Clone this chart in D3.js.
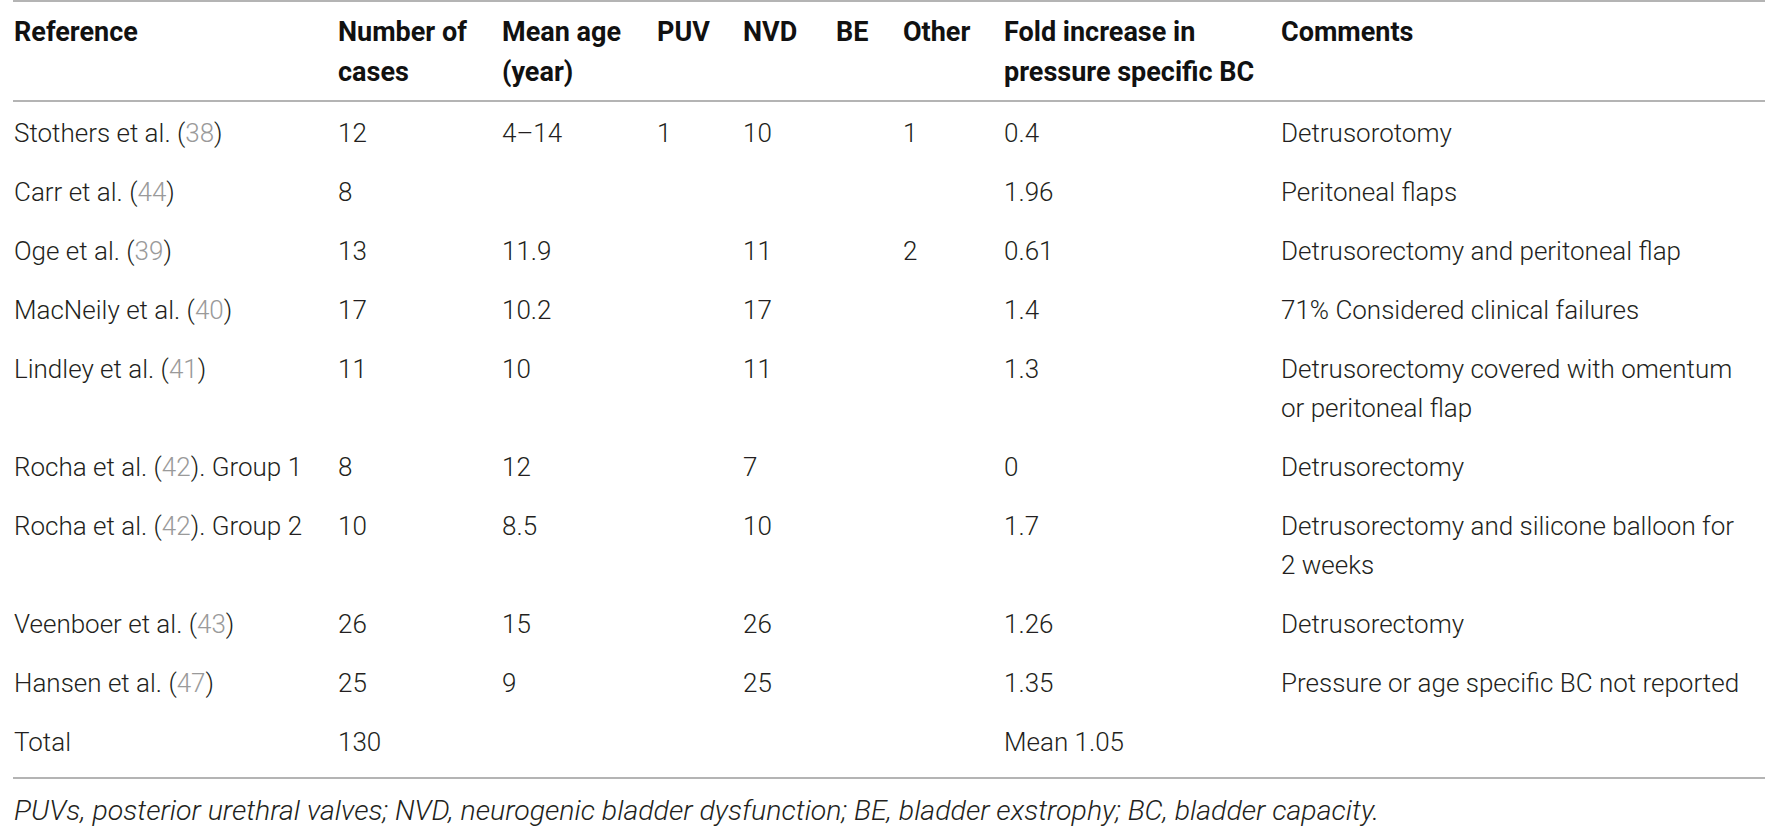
<!DOCTYPE html>
<html>
<head>
<meta charset="utf-8">
<script src="https://cdn.jsdelivr.net/npm/d3@7"></script>
<style>
  body { margin: 0; background: #fff; }
  svg { display: block; }
</style>
</head>
<body>
<svg id="vis-svg"></svg>
<script>
// Table data, one array per column
const headers = [
    ["Reference"],
    ["Number of", "cases"],
    ["Mean age", "(year)"],
    ["PUV"],
    ["NVD"],
    ["BE"],
    ["Other"],
    ["Fold increase in", "pressure specific BC"],
    ["Comments"]
];

const references = ["Stothers et al.", "Carr et al.", "Oge et al.", "MacNeily et al.", "Lindley et al.",
    "Rocha et al.", "Rocha et al.", "Veenboer et al.", "Hansen et al.", "Total"];
const refNumbers = ["38", "44", "39", "40", "41", "42", "42", "43", "47", ""];
const refSuffix = ["", "", "", "", "", ". Group 1", ". Group 2", "", "", ""];
const cases = ["12", "8", "13", "17", "11", "8", "10", "26", "25", "130"];
const meanAge = ["4–14", "", "11.9", "10.2", "10", "12", "8.5", "15", "9", ""];
const puv = ["1", "", "", "", "", "", "", "", "", ""];
const nvd = ["10", "", "11", "17", "11", "7", "10", "26", "25", ""];
const be = ["", "", "", "", "", "", "", "", "", ""];
const other = ["1", "", "2", "", "", "", "", "", "", ""];
const foldIncrease = ["0.4", "1.96", "0.61", "1.4", "1.3", "0", "1.7", "1.26", "1.35", "Mean 1.05"];
const comments = [
    ["Detrusorotomy"],
    ["Peritoneal flaps"],
    ["Detrusorectomy and peritoneal flap"],
    ["71% Considered clinical failures"],
    ["Detrusorectomy covered with omentum", "or peritoneal flap"],
    ["Detrusorectomy"],
    ["Detrusorectomy and silicone balloon for", "2 weeks"],
    ["Detrusorectomy"],
    ["Pressure or age specific BC not reported"],
    []
];
const footnote = "PUVs, posterior urethral valves; NVD, neurogenic bladder dysfunction; BE, bladder exstrophy; BC, bladder capacity.";

const width = 1778, height = 826;
const textColor = "#231f20", refColor = "#9a9a9a", ruleColor = "#b4b4b4";
const bodyFont = "Roboto, 'Liberation Sans', sans-serif";

// column left edges
const x = d3.scaleOrdinal()
    .domain(d3.range(headers.length))
    .range([14, 338, 502, 657, 743, 836, 903, 1004, 1281]);

const lineHeight = 39, rowGap = 59;

// row centers, taller rows push the next ones down
const rowLines = comments.map(c => Math.max(1, c.length));
const rowY = [];
rowLines.reduce((acc, n, i) => { rowY[i] = acc; return acc + rowGap + (n - 1) * lineHeight; }, 133);

const svg = d3.select("#vis-svg")
    .attr("width", width)
    .attr("height", height);

// rules
const rules = [1, 101, 778];
svg.selectAll(".rule")
    .data(rules)
  .enter().append("line")
    .attr("x1", 13)
    .attr("x2", 1765)
    .attr("y1", d => d)
    .attr("y2", d => d)
    .attr("stroke", ruleColor)
    .attr("stroke-width", 2);

// header
const head = svg.append("g")
    .attr("font-family", bodyFont)
    .attr("font-weight", 700)
    .attr("font-size", 27)
    .attr("fill", "#111");

headers.forEach((lines, c) => {
    lines.forEach((t, k) => {
        head.append("text")
            .attr("x", x(c))
            .attr("y", 32 + k * 40)
            .attr("dy", "0.35em")
            .text(t);
    });
});

// body
const body = svg.append("g")
    .attr("font-family", bodyFont)
    .attr("font-weight", 300)
    .attr("font-size", 26)
    .attr("fill", textColor);

references.forEach((r, i) => {
    const t = body.append("text")
        .attr("x", x(0))
        .attr("y", rowY[i])
        .attr("dy", "0.35em");
    if (refNumbers[i]) {
        t.append("tspan").text(r + " (");
        t.append("tspan").attr("fill", refColor).text(refNumbers[i]);
        t.append("tspan").text(")" + refSuffix[i]);
    } else {
        t.text(r);
    }
});

const simpleCols = [cases, meanAge, puv, nvd, be, other, foldIncrease];
simpleCols.forEach((col, c) => {
    body.selectAll(null)
        .data(col)
      .enter().append("text")
        .attr("x", x(c + 1))
        .attr("y", (d, i) => rowY[i])
        .attr("dy", "0.35em")
        .text(d => d);
});

comments.forEach((lines, i) => {
    lines.forEach((t, k) => {
        body.append("text")
            .attr("x", x(8))
            .attr("y", rowY[i] + k * lineHeight)
            .attr("dy", "0.35em")
            .text(t);
    });
});

// footnote
svg.append("text")
    .attr("x", 14)
    .attr("y", 810)
    .attr("dy", "0.35em")
    .attr("font-family", bodyFont)
    .attr("font-weight", 300)
    .attr("font-style", "italic")
    .attr("font-size", 28.5)
    .attr("fill", textColor)
    .text(footnote);
</script>
</body>
</html>
